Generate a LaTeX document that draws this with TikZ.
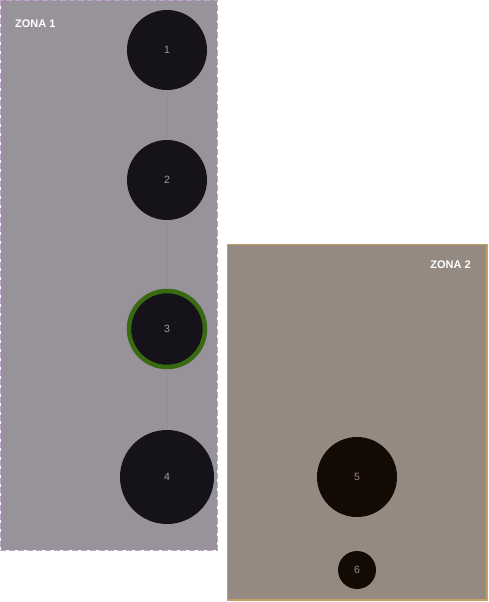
\documentclass[tikz,border=0pt]{standalone}
\usepackage{fontspec}
\setmainfont{Liberation Sans}
\begin{document}
\begin{tikzpicture}[x=1pt,y=-1pt,
  zlabel/.style={text=white,font=\fontsize{11}{13}\selectfont\bfseries,inner sep=0pt},
  nodeA/.style={circle,fill=c1fill,text=ctext,font=\fontsize{10.5}{12}\selectfont,inner sep=0pt},
  nodeB/.style={circle,fill=c2fill,text=ctext2,font=\fontsize{10.5}{12}\selectfont,inner sep=0pt},
  link/.style={draw=linkc,line width=0.3pt}]
\definecolor{z1fill}{HTML}{98929A}
\definecolor{z1line}{HTML}{C0A2CC}
\definecolor{z2fill}{HTML}{958A81}
\definecolor{z2line}{HTML}{C89F62}
\definecolor{c1fill}{HTML}{16121A}
\definecolor{c2fill}{HTML}{140A04}
\definecolor{ctext}{HTML}{A09DA2}
\definecolor{ctext2}{HTML}{9A8D83}
\definecolor{greenr}{HTML}{386A12}
\definecolor{linkc}{HTML}{948F97}
\definecolor{linkc2}{HTML}{988C7E}
\useasboundingbox (0,0) rectangle (489,602);
\fill[white] (0,0) rectangle (489,602);
% zones
\draw[fill=z1fill,draw=z1line,line width=1pt,dash pattern=on 6pt off 3pt] (0.5,0.5) rectangle (217,550);
\draw[fill=z2fill,draw=z2line,line width=1.5pt] (227.5,244.5) rectangle (487,600);
\node[zlabel,anchor=west] (z1) at (15,24) {ZONA 1};
\node[zlabel,anchor=east] (z2) at (471,265) {ZONA 2};
% nodes
\node[nodeA,minimum size=80pt] (n1) at (167,50) {1};
\node[nodeA,minimum size=80pt] (n2) at (167,180) {2};
\node[nodeA,minimum size=76pt,draw=greenr,line width=4.5pt] (n3) at (167,329) {3};
\node[nodeA,minimum size=94pt] (n4) at (167,477) {4};
\node[nodeB,minimum size=80pt] (n5) at (357,477) {5};
\node[nodeB,minimum size=38pt] (n6) at (357,570) {6};
% faint links
\draw[link] (n1) -- (n2);
\draw[link] (n2) -- (n3);
\draw[link] (n3) -- (n4);
\draw[link,draw=linkc2] (n5) -- (n6);
\end{tikzpicture}
\end{document}
